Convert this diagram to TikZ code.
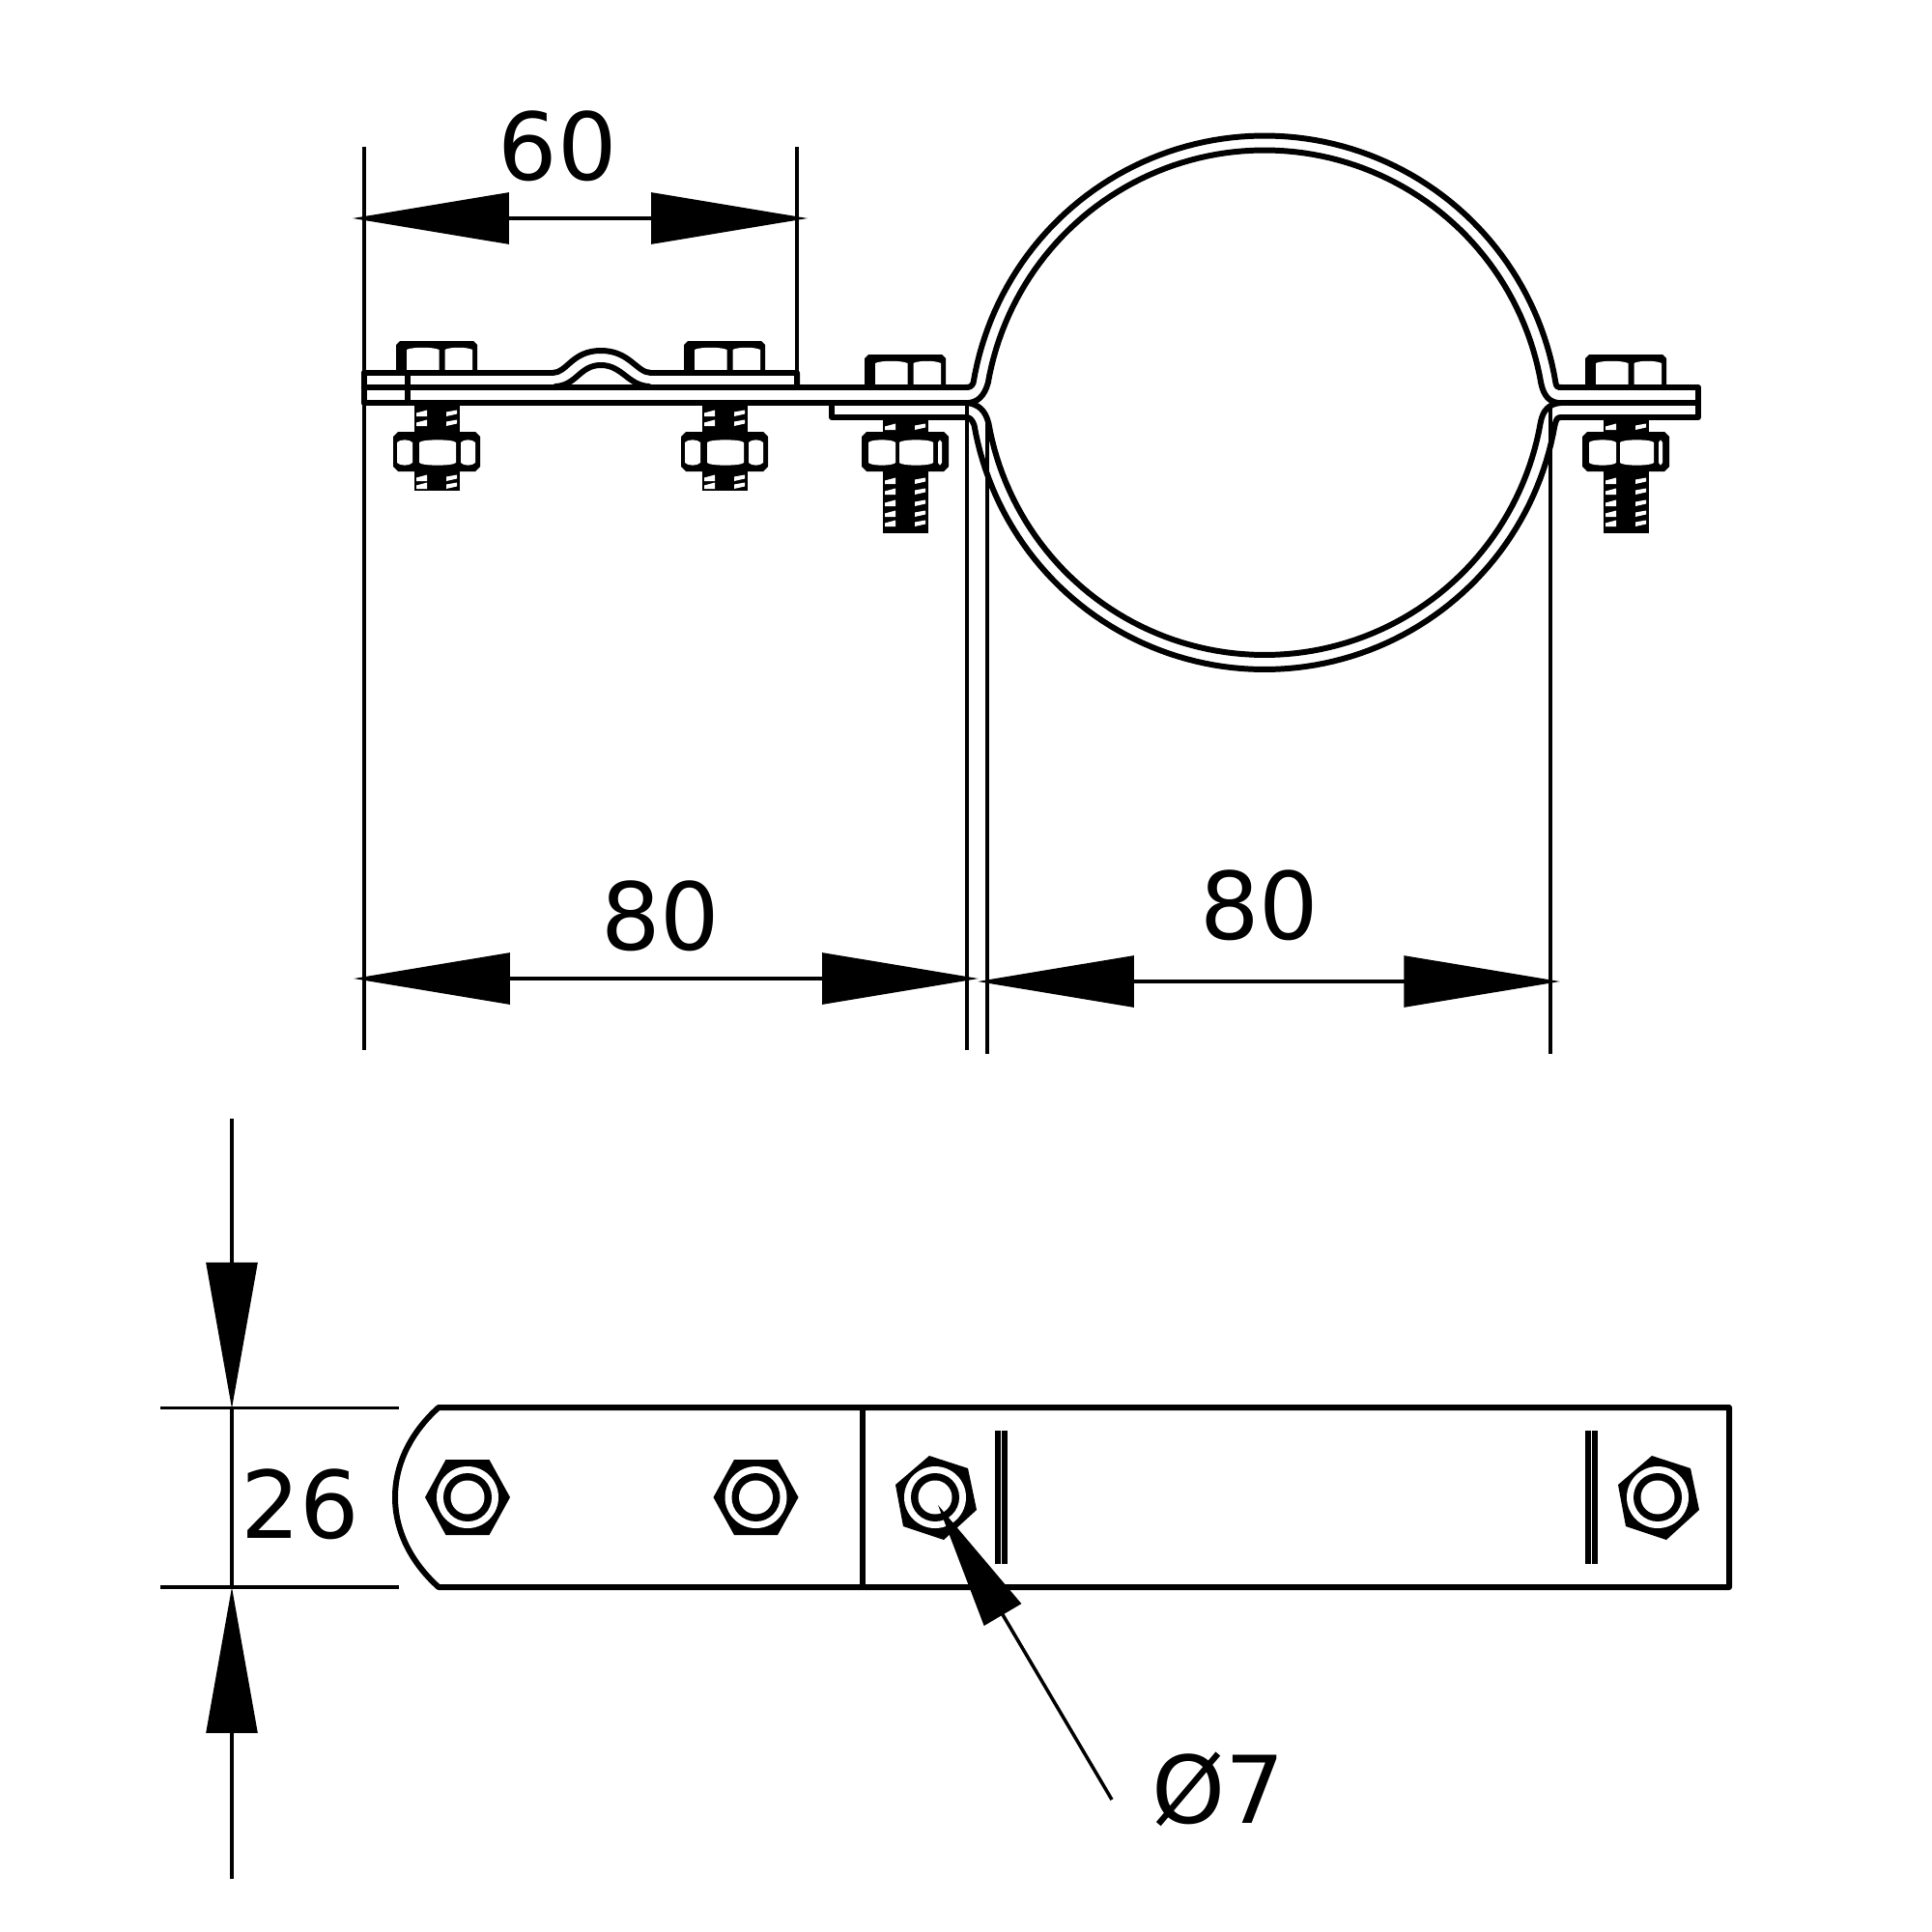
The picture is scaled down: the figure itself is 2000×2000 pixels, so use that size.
\documentclass[tikz,border=0pt]{standalone}
\usepackage{fontspec}
\setmainfont{DejaVu Sans}
\usetikzlibrary{arrows.meta}
\tikzset{
  ln/.style={line width=1.7pt,line join=round,line cap=round},
  bar/.style={line width=1.7pt,line cap=butt},
  thin dim/.style={line width=1pt,line cap=butt},
  part/.style={fill=black},
  lbl/.style={font=\fontsize{27.5}{30}\selectfont,inner sep=0pt,anchor=base},
  tipa/.style={{Triangle[length=46pt,width=15pt]}-{Triangle[length=46pt,width=15pt]}},
  tipb/.style={-{Triangle[length=43pt,width=15pt]}},
  tipc/.style={-{Triangle[length=37.5pt,width=12.5pt]}},
}
\newcommand{\bolthead}[2]{\begin{scope}[shift={(#1,#2)}]
  \fill[part] (-42,33) -- (-42,4) -- (-38,0) -- (38,0) -- (42,4) -- (42,33) -- cycle;
  \fill[white] (-31,33) -- (-31,9) .. controls (-25,6) and (-4,6) .. (2.5,9) -- (2.5,33) -- cycle;
  \fill[white] (8.5,33) -- (8.5,9) .. controls (14,6) and (31,6) .. (37,9) -- (37,33) -- cycle;
\end{scope}}
\newcommand{\nutbody}[1]{\fill[part] (#1-40,447) -- (#1+40,447) -- (#1+45,452) -- (#1+45,483) -- (#1+40,488) -- (#1-40,488) -- (#1-45,483) -- (#1-45,452) -- cycle;}
\newcommand{\nutface}[3]{\fill[white] (#1+#2,458) .. controls (#1+#2+3,454.5) and (#1+#3-3,454.5) .. (#1+#3,458) -- (#1+#3,479) .. controls (#1+#3-3,482.5) and (#1+#2+3,482.5) .. (#1+#2,479) -- cycle;}
\newcommand{\shaft}[3]{\fill[part] (#1-23.5,#2) rectangle (#1+23.5,#3);}
\newcommand{\slit}[2]{%
  \fill[white] (#1-21,#2+3) -- (#1-10,#2+3) -- (#1-10,#2-3.5) -- (#1-21,#2-.5) -- cycle;
  \fill[white] (#1+10,#2+3) -- (#1+21,#2+.5) -- (#1+21,#2-3.5) -- (#1+10,#2-1.5) -- cycle;}
\newcommand{\rings}[2]{%
  \fill[white] (#1,#2) circle[radius=32];
  \fill[part] (#1,#2) circle[radius=25];
  \fill[white] (#1,#2) circle[radius=17.5];}
\newcommand{\straighthex}[2]{\begin{scope}[shift={(#1,#2)}]
  \fill[part] (-44,0) -- (-22.5,-39) -- (22.5,-39) -- (44,0) -- (22.5,39) -- (-22.5,39) -- cycle;
\end{scope}\rings{#1}{#2}}
\newcommand{\tiltedhex}[2]{\begin{scope}[shift={(#1,#2)}]
  \fill[part] (-6,-43) -- (34,-30) -- (43,13) -- (9,44) -- (-33,30) -- (-41,-13) -- cycle;
\end{scope}\rings{#1}{#2}}
\begin{document}
\begin{tikzpicture}[x=0.01cm,y=-0.01cm]
\useasboundingbox[fill=white] (0,0) rectangle (2000,2000);

% bolts, side view
\foreach \c in {452,750}{
  \shaft{\c}{417}{508}
  \slit{\c}{428}\slit{\c}{438}\slit{\c}{495}\slit{\c}{503}
  \bolthead{\c}{353}
  \nutbody{\c}
  \nutface{\c}{-41}{-25}\nutface{\c}{-18}{20}\nutface{\c}{25}{40}
}
\foreach \c in {937,1683}{
  \shaft{\c}{432}{552}
  \slit{\c}{442}\slit{\c}{498}\slit{\c}{509}\slit{\c}{521}\slit{\c}{532}\slit{\c}{542}
  \bolthead{\c}{367}
  \nutbody{\c}
  \nutface{\c}{-38}{-10}\nutface{\c}{-6}{29}\nutface{\c}{34}{38}
}

% upper saddle plate
\draw[ln] (377,386) -- (572,386)
  .. controls (587,386) and (592,363) .. (622,363)
  .. controls (652,363) and (659,386) .. (674,386)
  -- (825,386) -- (825,401);
\draw[ln] (575,400) .. controls (597,399) and (600,378) .. (622,378)
  .. controls (644,378) and (650,399) .. (672,400);
\draw[ln] (377,386) -- (377,417);
\draw[ln] (422,386) -- (422,417);

% strap
\draw[ln] (377,401) -- (1000,401);
\draw[ln] (377,417) -- (1003,417);
\draw[ln] (861,417) -- (861,432) -- (1000,432);
\draw[ln] (1616,401) -- (1758,401) -- (1758,432) -- (1616,432);
\draw[ln] (1613,417) -- (1758,417);

% ring
\draw[ln] (1000,401) .. controls (1004,401) and (1006,400) .. (1007.7,396)
  -- plot[domain=170.6:9.4,samples=90] ({1309+305.5*cos(\x)},{446-305.5*sin(\x)})
  .. controls (1611,400) and (1612,401) .. (1616,401);
\draw[ln] (1003,417) .. controls (1012,416) and (1019,410) .. (1022.7,396.6)
  -- plot[domain=170.2:9.8,samples=90] ({1309+290.5*cos(\x)},{446-290.5*sin(\x)})
  .. controls (1598,410) and (1604,416) .. (1613,417);
\draw[ln] (1000,417) .. controls (1013,418) and (1020,425) .. (1023.3,438)
  -- plot[domain=170.1:9.9,samples=90] ({1309+290*cos(\x)},{388+290*sin(\x)})
  .. controls (1597,425) and (1603,418) .. (1616,417);
\draw[ln] (1000,432) .. controls (1004,432) and (1006,434) .. (1008.5,440)
  -- plot[domain=170.2:9.8,samples=90] ({1309+305*cos(\x)},{388+305*sin(\x)})
  .. controls (1611,434) and (1612,432) .. (1616,432);

% extension lines
\coordinate (extLtop) at (377,152);   \coordinate (extLbot) at (377,1087);
\coordinate (extMtop) at (825,152);   \coordinate (extMbot) at (825,386);
\coordinate (extAtop) at (1001,417);  \coordinate (extAbot) at (1001,1087);
\coordinate (extBtop) at (1022,438);  \coordinate (extBbot) at (1022,1091);
\coordinate (extCtop) at (1605,420);  \coordinate (extCbot) at (1605,1091);
\draw[thin dim] (extLtop) -- (extLbot);
\draw[thin dim] (extMtop) -- (extMbot);
\draw[thin dim] (extAtop) -- (extAbot);
\draw[thin dim] (extBtop) -- (extBbot);
\draw[thin dim] (extCtop) -- (extCbot);

% dimensions, top view
\coordinate (d60a) at (365,226);  \coordinate (d60b) at (836,226);
\coordinate (d80a) at (366,1013); \coordinate (d80b) at (1013,1013);
\coordinate (d80c) at (1012,1016);\coordinate (d80d) at (1615,1016);
\draw[thin dim,tipa] (d60a) -- (d60b);
\draw[thin dim,tipa] (d80a) -- (d80b);
\draw[thin dim,tipa] (d80c) -- (d80d);
\node[lbl] (t60) at (577.5,187) {60};
\node[lbl] (t80a) at (684,983) {80};
\node[lbl] (t80b) at (1304,972) {80};

% flat strip view
\draw[ln] (454,1457) -- (1790,1457) -- (1790,1643) -- (454,1643)
  .. controls (424,1616) and (409,1583) .. (409,1550)
  .. controls (409,1517) and (424,1484) .. (454,1457) -- cycle;
\draw[ln] (893,1457) -- (893,1643);
\draw[bar] (1032.5,1481) -- (1032.5,1619);
\draw[bar] (1040,1481) -- (1040,1619);
\draw[bar] (1644,1481) -- (1644,1619);
\draw[bar] (1650.5,1481) -- (1650.5,1619);
\straighthex{484}{1550}
\straighthex{782.5}{1550}
\tiltedhex{968}{1550}
\tiltedhex{1716}{1550}

% dimension 26
\coordinate (e1a) at (166,1457.5); \coordinate (e1b) at (413,1457.5);
\coordinate (e2a) at (166,1643);   \coordinate (e2b) at (413,1643);
\coordinate (d26a) at (240,1158);  \coordinate (d26b) at (240,1458);
\coordinate (d26c) at (240,1945);  \coordinate (d26d) at (240,1643);
\draw[thin dim] (e1a) -- (e1b);
\draw[thin dim] (e2a) -- (e2b);
\draw[thin dim] (d26b) -- (d26d);
\draw[thin dim,tipb] (d26a) -- (d26b);
\draw[thin dim,tipb] (d26c) -- (d26d);
\node[lbl] (t26) at (311,1592) {26};

% hole leader
\coordinate (leadA) at (1151,1863); \coordinate (leadB) at (971,1558);
\draw[thin dim,tipc] (leadA) -- (leadB);
\node[lbl] (t7) at (1261,1887) {Ø7};
\end{tikzpicture}
\end{document}
